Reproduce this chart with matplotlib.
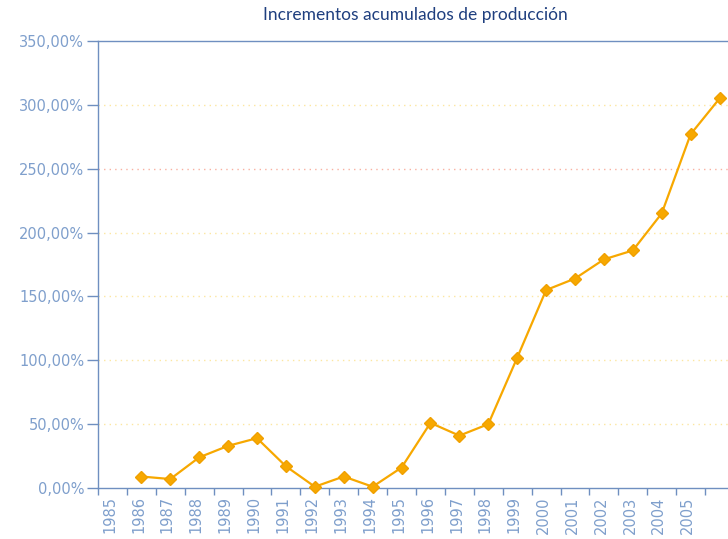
import numpy as np
import matplotlib.pyplot as plt
from matplotlib.ticker import FuncFormatter, FixedLocator

years = [str(y) for y in range(1985, 2007)]
increments = [np.nan, 9, 7, 24, 33, 39, 17, 1, 9, 1, 16, 51, 41, 50,
              102, 155, 164, 179, 186, 215, 277, 305]
tick_labels = years[:-1]

axis_col = '#6f8fc0'
label_col = '#7f9fcc'

fig = plt.figure(figsize=(7.28, 5.39), dpi=100)
ax = fig.add_axes([98 / 728, 51 / 539, 636 / 728, 447 / 539])

x = np.arange(len(years))
ax.plot(x, increments, color='#f7a800', linewidth=1.6, marker='D',
        markersize=6.5, markerfacecolor='#f7a800', markeredgecolor='#f0a000',
        clip_on=False, zorder=3)

ax.set_xlim(-0.5, len(years) - 0.5)
ax.set_ylim(0, 350)

# grid lines (dotted, faint)
for v in [50, 100, 150, 200, 300]:
    ax.axhline(v, color='#fce6a0', linestyle=(0, (1, 3)), linewidth=1, zorder=1)
ax.axhline(250, color='#f9b0a0', linestyle=(0, (1, 3)), linewidth=1, zorder=1)

ax.set_yticks(np.arange(0, 351, 50))
ax.yaxis.set_major_formatter(FuncFormatter(lambda v, p: f'{v:.2f}'.replace('.', ',') + '%'))

# ticks between categories, labels at the centres
ax.xaxis.set_major_locator(FixedLocator(np.arange(-0.5, len(years), 1)))
ax.xaxis.set_major_formatter(FuncFormatter(lambda v, p: ''))
ax.set_xticks(np.arange(len(tick_labels)) - 0.1, minor=True)
ax.set_xticklabels(tick_labels, minor=True, rotation=90, va='top', ha='center')

ax.tick_params(axis='y', colors=axis_col, labelcolor=label_col, length=8,
               width=1, labelsize=10.5, pad=2)
ax.tick_params(axis='x', which='major', colors=axis_col, length=5, width=1)
ax.tick_params(axis='x', which='minor', length=0, labelcolor=label_col,
               labelsize=10.5, pad=6)

for side in ['left', 'bottom', 'top']:
    ax.spines[side].set_color(axis_col)
    ax.spines[side].set_linewidth(1)
ax.spines['right'].set_visible(False)

fig.text(415 / 728, 1 - 15 / 539, 'Incrementos acumulados de producción',
         ha='center', va='center', color='#1f3f7f', fontsize=12.5,
         family='Lato')

fig.savefig('out.png', dpi=100)
